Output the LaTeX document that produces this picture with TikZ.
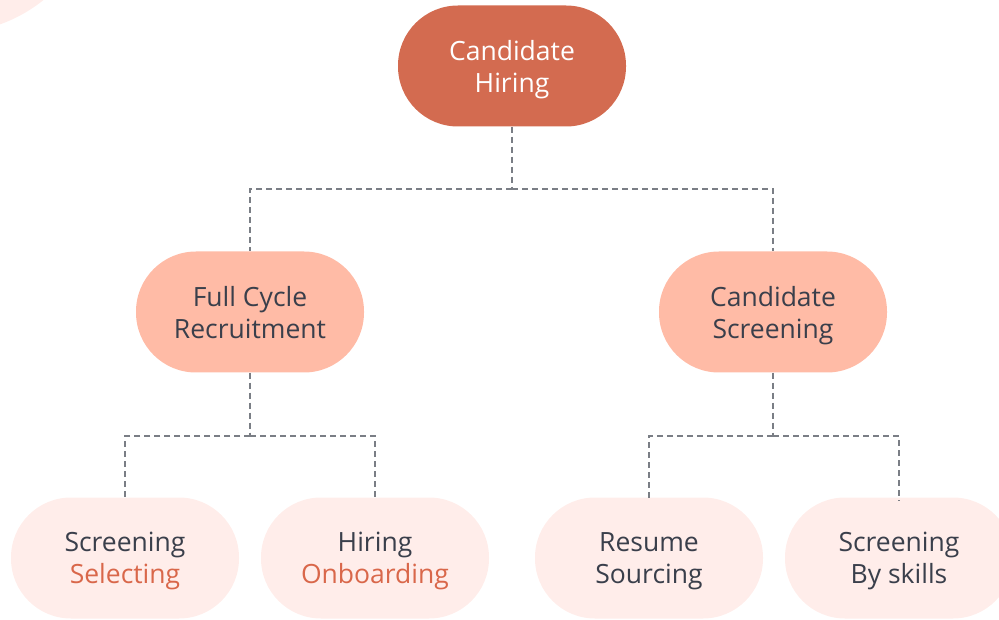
\documentclass[tikz,border=0pt]{standalone}
\usepackage{fontspec}
\setmainfont{Open Sans}
\definecolor{topc}{HTML}{D36B50}
\definecolor{midc}{HTML}{FFBBA6}
\definecolor{lowc}{HTML}{FFEDEA}
\definecolor{txt}{HTML}{3A3F4B}
\definecolor{acc}{HTML}{D9674A}
\definecolor{linec}{HTML}{7A7E85}
\tikzset{
  pill/.style={rectangle, rounded corners=60pt, minimum width=228pt, minimum height=121pt,
    align=center, font=\fontsize{26.5}{32}\selectfont, text=txt, inner sep=0pt, text depth=-1pt},
  topbox/.style={pill, fill=topc, text=white},
  midbox/.style={pill, fill=midc},
  lowbox/.style={pill, fill=lowc},
  conn/.style={draw=linec, line width=1.8pt, dash pattern=on 6pt off 4pt},
}
\begin{document}
\begin{tikzpicture}[x=1pt,y=-1pt]
\useasboundingbox (0,0) rectangle (999,620);
\fill[lowc] (-50,-116) circle (149);
\node[topbox] (top) at (512,66) {Candidate\\Hiring};
\node[midbox] (fcr) at (250,312) {Full Cycle\\Recruitment};
\node[midbox] (cs) at (773,312) {Candidate\\Screening};
\node[lowbox] (ss) at (125,558) {Screening\\\textcolor{acc}{Selecting}};
\node[lowbox] (ho) at (375,558) {Hiring\\\textcolor{acc}{Onboarding}};
\node[lowbox] (rs) at (649,558) {Resume\\Sourcing};
\node[lowbox] (sb) at (899,558) {Screening\\By skills};
\coordinate (j0) at (512,189);
\coordinate (j1) at (250,436);
\coordinate (j2) at (773,436);
\draw[conn] (top.south) -- (j0);
\draw[conn] (j0) -| (fcr.north);
\draw[conn] (j0) -| (cs.north);
\draw[conn] (fcr.south) -- (j1);
\draw[conn] (j1) -| ([yshift=-3pt]ss.north);
\draw[conn] (j1) -| ([yshift=-3pt]ho.north);
\draw[conn] (cs.south) -- (j2);
\draw[conn] (j2) -| ([yshift=-3pt]rs.north);
\draw[conn] (j2) -| ([yshift=-3pt]sb.north);
\end{tikzpicture}
\end{document}
